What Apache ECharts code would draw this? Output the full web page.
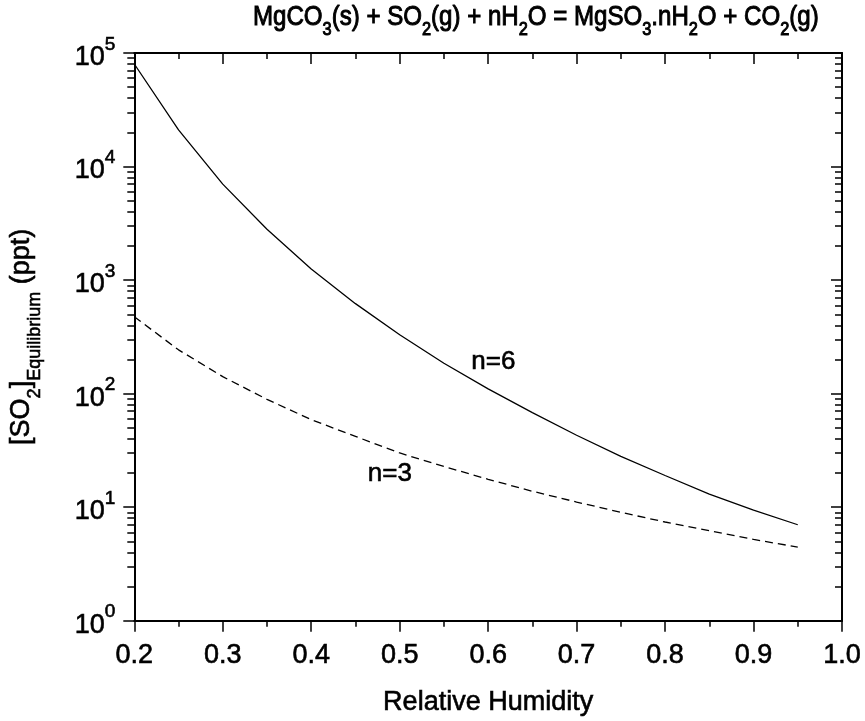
<!DOCTYPE html>
<html><head><meta charset="utf-8">
<script src="https://cdn.jsdelivr.net/npm/echarts@6/dist/echarts.min.js"></script>
<style>html,body{margin:0;padding:0;background:#fff}#c{width:865px;height:721px}</style>
</head><body><div id="c"></div>
<script>
// Relative humidity (x)
const rh = [0.20, 0.25, 0.30, 0.35, 0.40, 0.45, 0.50, 0.55, 0.60, 0.65, 0.70, 0.75, 0.80, 0.85, 0.90, 0.95];
// [SO2] equilibrium (ppt), n = 6 (solid)
const so2N6 = [80000, 21000, 7000, 2800, 1250, 620, 330, 185, 110, 68, 43, 28, 19, 13, 9.4, 7.0];
// [SO2] equilibrium (ppt), n = 3 (dashed)
const so2N3 = [475, 243, 141, 89, 59, 42, 30, 22.8, 17.6, 13.8, 11.1, 9.0, 7.4, 6.2, 5.2, 4.45];
// curve labels
const curveLabels = [
  { text: 'n=6', x: 0.581, y: 192 },
  { text: 'n=3', x: 0.464, y: 19.8 }
];
const titleText = '{m|MgCO}{s|3}{m|(s) + SO}{s|2}{m|(g) + nH}{s|2}{m|O = MgSO}{s|3}{m|.nH}{s|2}{m|O + CO}{s|2}{m|(g)}';
const yName = '{m|[SO}{s|2}{m|]}{s|Equilibrium}{m| (ppt)}';
const xName = 'Relative Humidity';

const FONT = '"Liberation Sans", Arial, sans-serif';
const chart = echarts.init(document.getElementById('c'), null, { renderer: 'canvas' });

const axisLine = { show: true, onZero: false, lineStyle: { color: '#000', width: 2 } };
const majTick = (inside) => ({ show: true, inside: inside, length: 11, lineStyle: { color: '#000', width: 1.5 } });
const minTick = (n) => ({ show: true, splitNumber: n, length: 6, lineStyle: { color: '#000', width: 1.5 } });
const txt = { color: '#000', fontFamily: FONT, fontSize: 27, textBorderColor: '#000', textBorderWidth: 0.6 };
const gtxt = { fill: '#000', stroke: '#000', lineWidth: 1.0, fontFamily: FONT };

const option = {
  animation: false,
  backgroundColor: '#fff',
  graphic: [{
    type: 'text', x: 253, y: 3, scaleX: 0.86, scaleY: 1, silent: true,
    style: Object.assign({}, gtxt, {
      text: titleText, fontSize: 28,
      rich: {
        m: Object.assign({}, gtxt, { fontSize: 28, lineHeight: 36, verticalAlign: 'top' }),
        s: Object.assign({}, gtxt, { fontSize: 19, lineHeight: 36, verticalAlign: 'bottom' })
      }
    })
  }],
  grid: { left: 134, right: 23, top: 53, bottom: 100, containLabel: false },
  xAxis: [{
    type: 'value', min: 0.2, max: 1.0, interval: 0.1, position: 'bottom',
    axisLine: axisLine, axisTick: majTick(false), minorTick: minTick(2),
    splitLine: { show: false }, minorSplitLine: { show: false },
    axisLabel: Object.assign({}, txt, { margin: 21, formatter: v => v.toFixed(1) }),
    name: xName, nameLocation: 'middle', nameGap: 68,
    nameTextStyle: Object.assign({}, txt)
  }, {
    type: 'value', min: 0.2, max: 1.0, interval: 0.1, position: 'top',
    axisLine: axisLine, axisTick: majTick(true), minorTick: minTick(2),
    splitLine: { show: false }, axisLabel: { show: false }
  }],
  yAxis: [{
    type: 'log', logBase: 10, min: 1, max: 100000, position: 'left',
    axisLine: axisLine, axisTick: majTick(false), minorTick: Object.assign(minTick(9), { length: 7 }),
    splitLine: { show: false }, minorSplitLine: { show: false },
    axisLabel: {
      margin: 19,
      formatter: v => '{b|10}{p|' + Math.round(Math.log10(v)) + '}',
      rich: {
        b: Object.assign({}, txt, { lineHeight: 36, verticalAlign: 'bottom' }),
        p: Object.assign({}, txt, { fontSize: 19, lineHeight: 36, verticalAlign: 'top' })
      }
    },
    name: yName, nameLocation: 'middle', nameGap: 90, nameRotate: 90,
    nameTextStyle: {
      rich: {
        m: Object.assign({}, txt, { lineHeight: 36, verticalAlign: 'top' }),
        s: Object.assign({}, txt, { fontSize: 18, lineHeight: 36, verticalAlign: 'bottom' })
      }
    }
  }, {
    type: 'log', logBase: 10, min: 1, max: 100000, position: 'right',
    axisLine: axisLine, axisTick: majTick(true), minorTick: Object.assign(minTick(9), { length: 7 }),
    splitLine: { show: false }, axisLabel: { show: false }
  }],
  series: [{
    type: 'line', name: 'n=6', xAxisIndex: 0, yAxisIndex: 0,
    data: rh.map((x, i) => [x, so2N6[i]]),
    showSymbol: false, symbol: 'none', smooth: false,
    lineStyle: { color: '#000', width: 1.3, type: 'solid' },
    markPoint: {
      symbol: 'circle', symbolSize: 0, silent: true,
      label: Object.assign({}, txt, { fontSize: 26, show: true, position: 'right', distance: 0, formatter: p => p.name }),
      data: [{ name: curveLabels[0].text, coord: [curveLabels[0].x, curveLabels[0].y] }]
    }
  }, {
    type: 'line', name: 'n=3', xAxisIndex: 0, yAxisIndex: 0,
    data: rh.map((x, i) => [x, so2N3[i]]),
    showSymbol: false, symbol: 'none', smooth: false,
    lineStyle: { color: '#000', width: 1.3, type: [8, 5] },
    markPoint: {
      symbol: 'circle', symbolSize: 0, silent: true,
      label: Object.assign({}, txt, { fontSize: 26, show: true, position: 'right', distance: 0, formatter: p => p.name }),
      data: [{ name: curveLabels[1].text, coord: [curveLabels[1].x, curveLabels[1].y] }]
    }
  }]
};
chart.setOption(option);
</script></body></html>
